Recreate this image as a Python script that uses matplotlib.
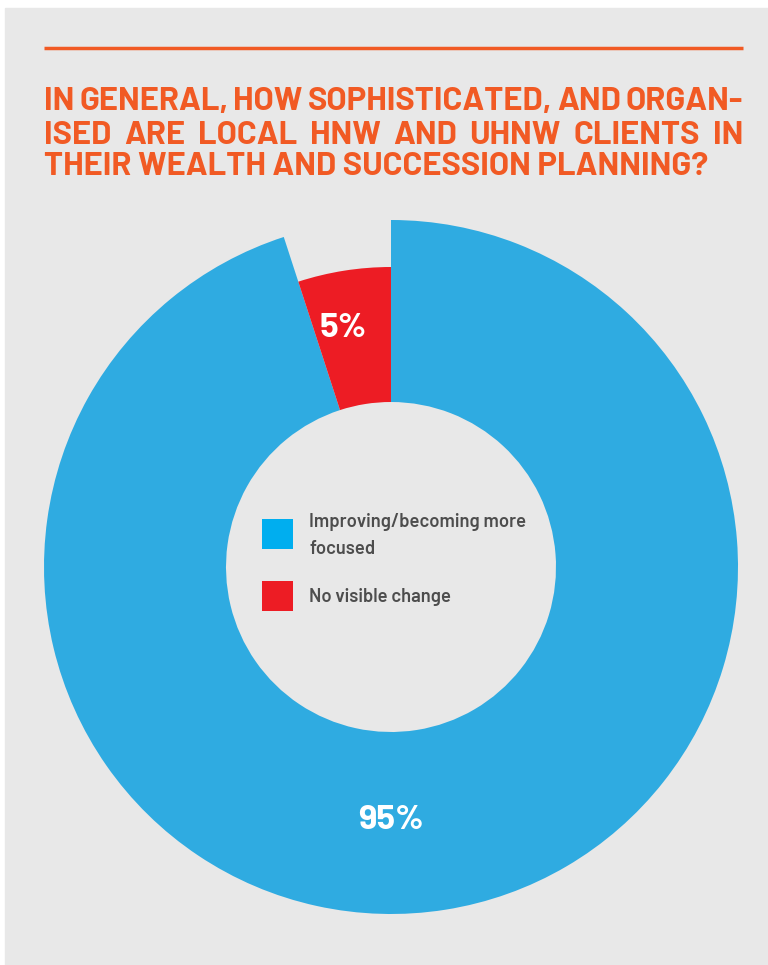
import matplotlib
matplotlib.use("Agg")
import matplotlib.pyplot as plt
from matplotlib.patches import Rectangle

# survey answers, in percent
labels = ["Improving/becoming more\nfocused", "No visible change"]
values = [95, 5]
pct_labels = ["95%", "5%"]
colors = ["#2fabe1", "#ed1c24"]
legend_colors = ["#00aeef", "#ed1c24"]

title_lines = [
    "IN GENERAL, HOW SOPHISTICATED, AND ORGAN-",
    "ISED ARE LOCAL HNW AND UHNW CLIENTS IN",
    "THEIR WEALTH AND SUCCESSION PLANNING?",
]

W, H = 768, 965
ORANGE = "#f15a24"
BG = "#e8e8e8"
TITLE_FONT = ["Barlow", "DejaVu Sans"]
LABEL_FONT = ["Barlow", "DejaVu Sans"]

fig = plt.figure(figsize=(W / 100, H / 100), dpi=100, facecolor="white")
ax = fig.add_axes([0, 0, 1, 1])


def py(y):
    # pixel rows counted from the top
    return H - y


ax.add_patch(Rectangle((5, 0), W - 5, H - 8, color=BG, zorder=0))
ax.plot([44, 743], [py(48), py(48)], color=ORANGE, lw=2.5, solid_capstyle="butt")

# donut: outer ring for the big share, shorter ring for the small one
cx, cy = 391, py(567)
r_in = 165
radii = [347, 300]
for i, r in enumerate(radii):
    cols = ["none"] * len(values)
    cols[i] = colors[i]
    ax.pie(values, colors=cols, startangle=90, counterclock=False,
           center=(cx, cy), radius=r,
           wedgeprops=dict(width=r - r_in, linewidth=0))

ax.text(391, py(820), pct_labels[0], color="white", fontsize=25,
        fontweight="bold", family=LABEL_FONT, ha="center", va="center")
ax.text(343, py(328), pct_labels[1], color="white", fontsize=25,
        fontweight="bold", family=LABEL_FONT, ha="center", va="center")

# legend inside the hole
for (y0, col) in [(519, legend_colors[0]), (581, legend_colors[1])]:
    ax.add_patch(Rectangle((262, py(y0 + 30)), 31, 30, color=col, lw=0))
for y, txt in [(522, "Improving/becoming more"), (549, "focused"), (597, labels[1])]:
    ax.text(309, py(y), txt, color="#4d4d4d", fontsize=13.3, fontweight="semibold",
            family=LABEL_FONT, ha="left", va="center")

ax.set_xlim(0, W)
ax.set_ylim(0, H)
ax.axis("off")

# justified title: first two lines fill the rule width
renderer = fig.canvas.get_renderer()
x0, x1 = 44, 743
baselines = [110, 144, 175]
for k, (line, base) in enumerate(zip(title_lines, baselines)):
    if k == len(title_lines) - 1:
        ax.text(x0, py(base), line, color=ORANGE, fontsize=23.5, fontweight="bold",
                family=TITLE_FONT, ha="left", va="baseline")
        continue
    words = line.split()
    arts = [ax.text(0, py(base), w, color=ORANGE, fontsize=23.5, fontweight="bold",
                    family=TITLE_FONT, ha="left", va="baseline") for w in words]
    widths = [a.get_window_extent(renderer).width for a in arts]
    gap = (x1 - x0 - sum(widths)) / (len(words) - 1)
    x = x0
    for a, w in zip(arts, widths):
        a.set_x(x)
        x += w + gap

fig.savefig("out.png", dpi=100, facecolor="white")
